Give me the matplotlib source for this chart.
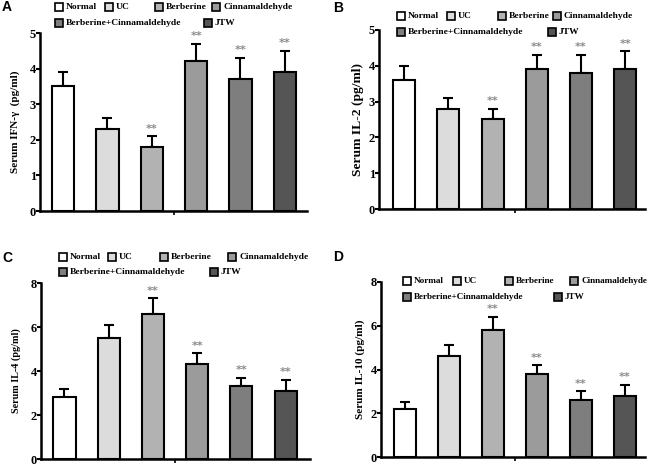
import matplotlib.pyplot as plt
from matplotlib.patches import Rectangle

# groups and fill colours
groups = ["Normal", "UC", "Berberine", "Cinnamaldehyde",
          "Berberine+Cinnamaldehyde", "JTW"]
colors = ["#ffffff", "#dcdcdc", "#b2b2b2", "#9b9b9b", "#7e7e7e", "#555555"]

# values (mean, sd)
ifn_mean = [3.5, 2.3, 1.8, 4.2, 3.7, 3.9]
ifn_sd = [0.4, 0.3, 0.3, 0.5, 0.6, 0.6]
il2_mean = [3.6, 2.8, 2.5, 3.9, 3.8, 3.9]
il2_sd = [0.4, 0.3, 0.3, 0.4, 0.5, 0.5]
il4_mean = [2.8, 5.5, 6.6, 4.3, 3.3, 3.1]
il4_sd = [0.4, 0.6, 0.7, 0.5, 0.4, 0.5]
il10_mean = [2.2, 4.6, 5.8, 3.8, 2.6, 2.8]
il10_sd = [0.3, 0.5, 0.6, 0.4, 0.4, 0.5]
sig = [False, False, True, True, True, True]

W, H = 650, 465
serif = "Liberation Serif"

fig = plt.figure(figsize=(6.5, 4.65), dpi=100)


def px_axes(left, right, top, bottom):
    return fig.add_axes([left / W, (H - bottom) / H,
                         (right - left) / W, (bottom - top) / H])


def draw_legend(x0, y1, y2, offs, offs2, fs=6.8):
    # GraphPad style: 4 slots on first row, 2 on second
    slots = [(x0 + o, y1) for o in offs] + [(x0 + o, y2) for o in offs2]
    for (x, y), c, g in zip(slots, colors, groups):
        fig.add_artist(Rectangle((x / W, (H - y - 4) / H), 8 / W, 8 / H,
                                 facecolor=c, edgecolor="k", lw=1.2,
                                 transform=fig.transFigure))
        fig.text((x + 11) / W, (H - y) / H, g, fontsize=fs,
                 fontweight="bold", family=serif, va="center", ha="left")


def panel(ax, means, sds, ymax, ystep, ylabel, xlim, letter, lpos,
          lab_fs=9, lab_pad=6):
    x = list(range(len(means)))
    ax.bar(x, means, width=0.5, color=colors, edgecolor="k", lw=1.5,
           zorder=2)
    ax.errorbar(x, means, yerr=[[0] * len(sds), sds], fmt="none",
                ecolor="k", elinewidth=1.5, capsize=3.5, capthick=1.5,
                zorder=1)
    for xi, m, s, flag in zip(x, means, sds, sig):
        if flag:
            ax.text(xi, m + s + ymax * 0.015, "**", ha="center",
                    va="bottom", color="#8a8a8a", fontsize=8,
                    fontweight="bold")
    ax.set_xlim(*xlim)
    ax.set_ylim(0, ymax)
    ax.set_yticks([i * ystep for i in range(int(ymax / ystep) + 1)])
    ax.set_xticks([2.5])
    ax.set_xticklabels([""])
    for lab in ax.get_yticklabels():
        lab.set_family(serif)
        lab.set_fontweight("bold")
        lab.set_fontsize(9)
    ax.tick_params(axis="y", length=3, width=1.5, pad=0)
    ax.tick_params(axis="x", length=3, width=1.2)
    ax.spines[["top", "right"]].set_visible(False)
    ax.spines[["left", "bottom"]].set_linewidth(1.8)
    ax.set_ylabel(ylabel, family=serif, fontweight="bold", fontsize=lab_fs,
                  labelpad=lab_pad)
    ax.patch.set_alpha(0)
    fig.text(lpos[0] / W, (H - lpos[1]) / H, letter, fontsize=10,
             fontweight="bold", family="Liberation Sans", va="center")


axA = px_axes(40, 307, 33, 211)
panel(axA, ifn_mean, ifn_sd, 5, 1, "Serum IFN-\u03b3  (pg/ml)",
      (-0.52, 5.5), "A", (2, 7), lab_fs=8, lab_pad=7)
draw_legend(55, 7, 23, [0, 50, 100, 157], [0, 149])

axB = px_axes(379, 645, 30, 209)
panel(axB, il2_mean, il2_sd, 5, 1, "Serum IL-2 (pg/ml)",
      (-0.57, 5.45), "B", (333, 8), lab_fs=9.7, lab_pad=3)
draw_legend(397, 16, 32, [0, 50, 101, 156], [0, 151])

axC = px_axes(41, 310, 283, 459)
panel(axC, il4_mean, il4_sd, 8, 2, "Serum IL-4 (pg/ml)",
      (-0.53, 5.55), "C", (2, 258), lab_fs=7.3, lab_pad=7)
draw_legend(59, 257, 272, [0, 49, 101, 169], [0, 151])

axD = px_axes(381, 645, 282, 457)
panel(axD, il10_mean, il10_sd, 8, 2, "Serum IL-10 (pg/ml)",
      (-0.54, 5.46), "D", (333, 257), lab_fs=8.1, lab_pad=4)
draw_legend(403, 281, 297, [0, 50, 102, 167], [0, 151], fs=6.6)

fig.savefig("out.png", dpi=100)
